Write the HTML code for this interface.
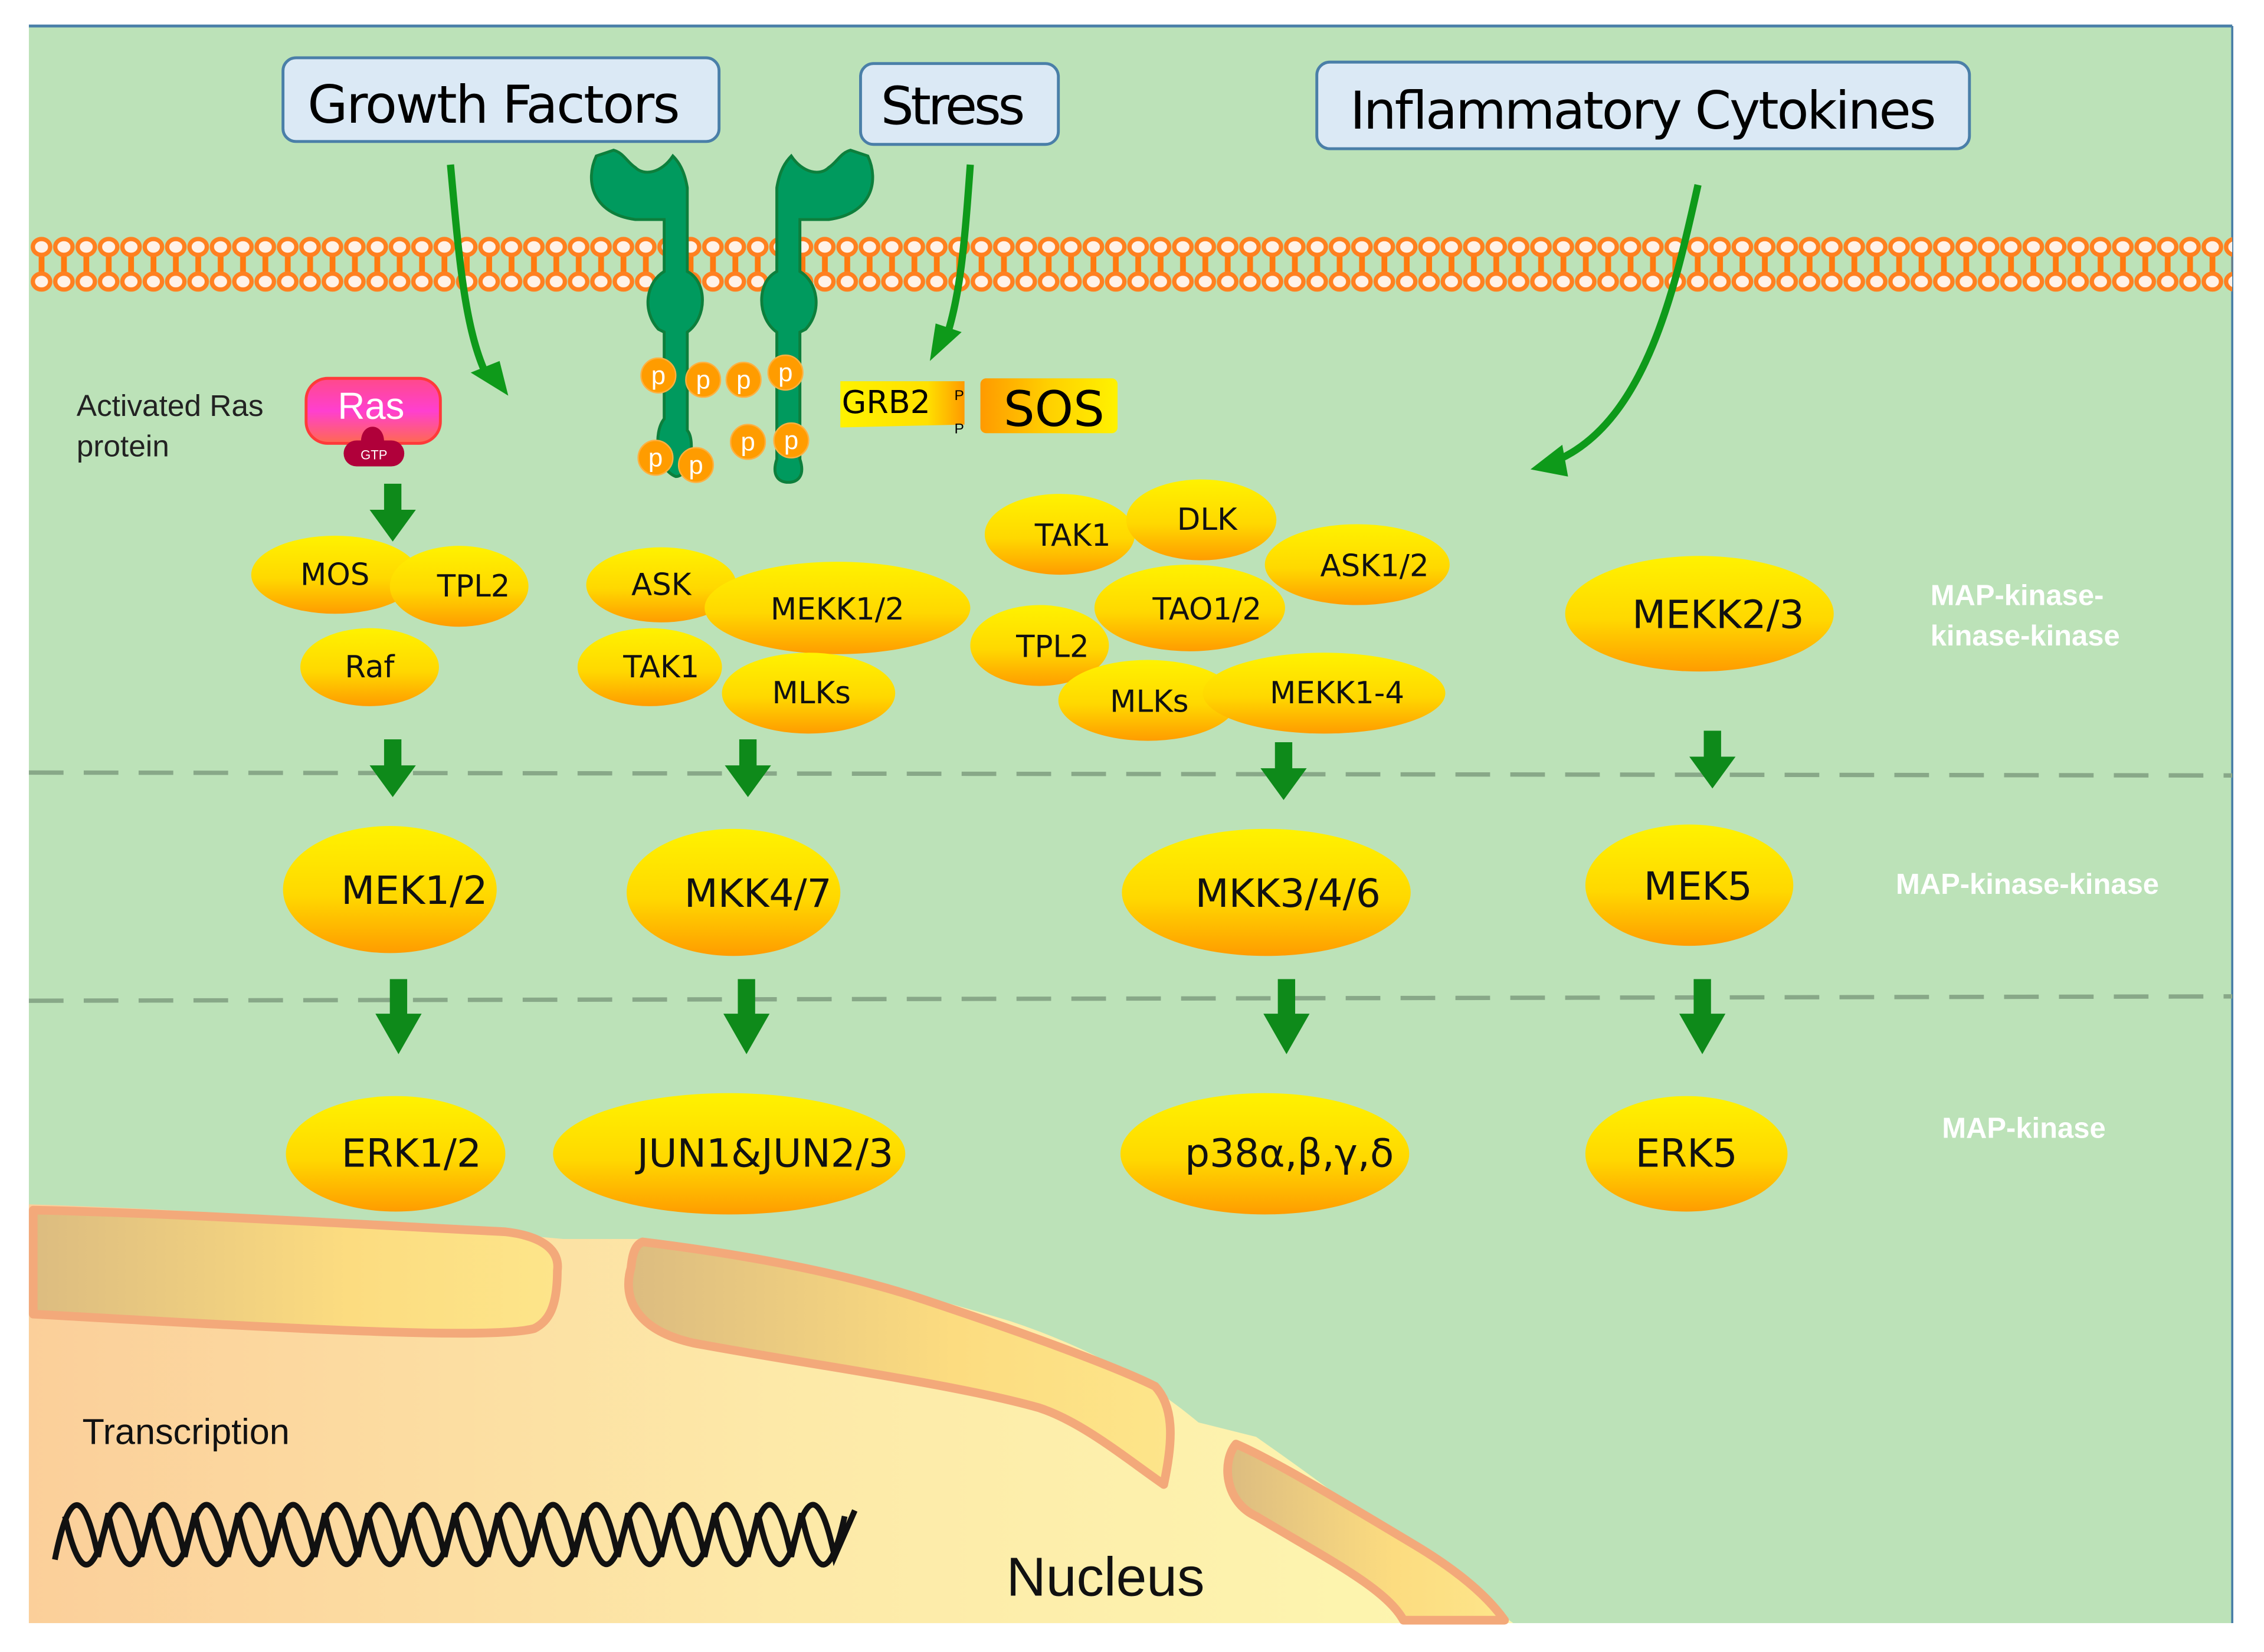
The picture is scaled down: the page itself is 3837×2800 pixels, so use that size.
<!DOCTYPE html>
<html><head><meta charset="utf-8"><style>html,body{margin:0;padding:0;background:#fff}svg{display:block}</style></head><body>
<svg width="3837" height="2800" viewBox="0 0 1568 1144" preserveAspectRatio="none" xmlns="http://www.w3.org/2000/svg" font-family="'Liberation Sans',sans-serif">
<defs>
<linearGradient id="yo" x1="0" y1="0" x2="0" y2="1"><stop offset="0" stop-color="#fff200"/><stop offset="0.55" stop-color="#ffd800"/><stop offset="1" stop-color="#ff9c00"/></linearGradient>
<linearGradient id="nuc" x1="0" y1="0" x2="1" y2="0"><stop offset="0" stop-color="#fbcf9a"/><stop offset="0.5" stop-color="#fde9a8"/><stop offset="1" stop-color="#fdf7b0"/></linearGradient>
<linearGradient id="env" x1="0" y1="0" x2="1" y2="0"><stop offset="0" stop-color="#dcbc80"/><stop offset="0.6" stop-color="#fcdc80"/><stop offset="1" stop-color="#fde58a"/></linearGradient>
<linearGradient id="ras" x1="0" y1="0" x2="0" y2="1"><stop offset="0" stop-color="#ff4a8a"/><stop offset="0.5" stop-color="#ff3fd0"/><stop offset="1" stop-color="#ff6a50"/></linearGradient>
<linearGradient id="sos" x1="0" y1="0" x2="1" y2="0"><stop offset="0" stop-color="#ff9a00"/><stop offset="0.5" stop-color="#ffd000"/><stop offset="1" stop-color="#fff200"/></linearGradient>
<linearGradient id="grb" x1="0" y1="0" x2="1" y2="0"><stop offset="0" stop-color="#fff200"/><stop offset="0.7" stop-color="#ffe000"/><stop offset="1" stop-color="#ff9a00"/></linearGradient>
<pattern id="lip" x="21" y="160" width="15.5" height="46" patternUnits="userSpaceOnUse">
<rect x="5.8" y="10" width="4" height="26" fill="#ff7a10"/>
<ellipse cx="7.75" cy="11" rx="6" ry="5.5" fill="#fff2e8" stroke="#ff8020" stroke-width="3"/>
<ellipse cx="7.75" cy="35" rx="6" ry="5.5" fill="#fff2e8" stroke="#ff8020" stroke-width="3"/>
</pattern>
</defs>
<rect x="0" y="0" width="1568" height="1144" fill="#fff"/>
<rect x="20" y="18" width="1526" height="1106" fill="#bce2b8"/>
<line x1="20" y1="18" x2="1546" y2="18" stroke="#4a7fa8" stroke-width="2"/>
<line x1="1546" y1="18" x2="1546" y2="1124" stroke="#4a7fa8" stroke-width="1.5"/>
<!-- membrane -->
<rect x="21" y="160" width="1525" height="46" fill="url(#lip)"/>
<!-- dashed lines -->
<line x1="20" y1="535" x2="1546" y2="537" stroke="#88a888" stroke-width="3" stroke-dasharray="24,14"/>
<line x1="20" y1="693" x2="1546" y2="690" stroke="#88a888" stroke-width="3" stroke-dasharray="24,14"/>
<!-- boxes -->
<rect x="196" y="40" width="302" height="58" rx="9" fill="#dbe9f5" stroke="#4a7fa8" stroke-width="2"/>
<text x="342" y="85" font-size="36" text-anchor="middle" fill="#000" font-family="'DejaVu Sans','Liberation Sans',sans-serif" textLength="258">Growth Factors</text>
<rect x="596" y="44" width="137" height="56" rx="9" fill="#dbe9f5" stroke="#4a7fa8" stroke-width="2"/>
<text x="660" y="86" font-size="36" text-anchor="middle" font-family="'DejaVu Sans','Liberation Sans',sans-serif" textLength="100">Stress</text>
<rect x="912" y="43" width="452" height="60" rx="9" fill="#dbe9f5" stroke="#4a7fa8" stroke-width="2"/>
<text x="1138" y="89" font-size="36" text-anchor="middle" font-family="'DejaVu Sans','Liberation Sans',sans-serif" textLength="406">Inflammatory Cytokines</text>
<!-- curved arrows -->
<path d="M312,114 C318,180 322,230 338,262" fill="none" stroke="#0e9a1a" stroke-width="5"/>
<path d="M352,274 L326,258 L346,250 z" fill="#0e9a1a"/>
<path d="M672,114 C668,170 665,205 655,235" fill="none" stroke="#0e9a1a" stroke-width="5"/>
<path d="M644,250 L648,224 L666,230 z" fill="#0e9a1a"/>
<path d="M1176,128 C1160,200 1140,290 1080,318" fill="none" stroke="#0e9a1a" stroke-width="5"/>
<path d="M1060,325 L1082,308 L1086,330 z" fill="#0e9a1a"/>
<!-- receptors -->
<g fill="#009a5e" stroke="#0d7f3c" stroke-width="2">
<path d="M413,108 C405,125 410,148 440,152 L460,152 L460,188 C448,195 444,215 456,228 L460,230 L460,290 C452,300 455,325 468,330 C478,330 482,305 476,298 L476,230 C490,220 490,195 476,188 L476,130 C474,118 470,112 466,108 C458,120 446,122 440,116 C434,112 432,106 425,104 z"/>
<path transform="translate(1014,0) scale(-1,1)" d="M413,108 C405,125 410,148 440,152 L460,152 L460,188 C448,195 444,215 456,228 L460,230 L460,318 C456,330 462,334 468,334 C474,334 480,330 476,318 L476,230 C490,220 490,195 476,188 L476,130 C474,118 470,112 466,108 C458,120 446,122 440,116 C434,112 432,106 425,104 z"/>
</g>
<g fill="#ff9c00" stroke="#ffb040" stroke-width="1">
<circle cx="456" cy="260" r="12"/><circle cx="487" cy="263" r="12"/><circle cx="515" cy="263" r="12"/><circle cx="544" cy="258" r="12"/>
<circle cx="454" cy="317" r="12"/><circle cx="482" cy="322" r="12"/><circle cx="518" cy="306" r="12"/><circle cx="548" cy="305" r="12"/>
</g>
<g fill="#fff" font-size="18" text-anchor="middle">
<text x="456" y="266">p</text><text x="487" y="269">p</text><text x="515" y="269">p</text><text x="544" y="264">p</text>
<text x="454" y="323">p</text><text x="482" y="328">p</text><text x="518" y="312">p</text><text x="548" y="311">p</text>
</g>
<!-- GRB2 SOS -->
<path d="M582,264 L668,264 L668,294 L582,296 z" fill="url(#grb)"/>
<text x="583" y="286" font-size="22" font-family="'DejaVu Sans',sans-serif">GRB2</text>
<text x="661" y="277" font-size="10">P</text><text x="661" y="300" font-size="10">P</text>
<rect x="679" y="262" width="95" height="38" rx="4" fill="url(#sos)"/>
<text x="730" y="295" font-size="34" text-anchor="middle" font-family="'DejaVu Sans',sans-serif">SOS</text>
<!-- Ras -->
<text x="53" y="288" font-size="21" fill="#222">Activated Ras</text>
<text x="53" y="316" font-size="21" fill="#222">protein</text>
<rect x="212" y="262" width="93" height="45" rx="15" fill="url(#ras)" stroke="#ff3a3a" stroke-width="2"/>
<text x="257" y="290" font-size="26" fill="#fff" text-anchor="middle">Ras</text>
<path d="M250,306 C250,292 266,292 266,306 z" fill="#b0003a"/>
<rect x="238" y="305" width="42" height="18" rx="9" fill="#b0003a"/>
<text x="259" y="318" font-size="9" fill="#fff" text-anchor="middle">GTP</text>
<!-- straight arrows -->
<g fill="#0e8a1a">
<path d="M266,335 h12 v18 h10 l-16,22 l-16,-22 h10 z"/>
<path d="M266,512 h12 v18 h10 l-16,22 l-16,-22 h10 z"/>
<path d="M512,512 h12 v18 h10 l-16,22 l-16,-22 h10 z"/>
<path d="M883,514 h12 v18 h10 l-16,22 l-16,-22 h10 z"/>
<path d="M1180,506 h12 v18 h10 l-16,22 l-16,-22 h10 z"/>
<path d="M270,678 h12 v24 h10 l-16,28 l-16,-28 h10 z"/>
<path d="M511,678 h12 v24 h10 l-16,28 l-16,-28 h10 z"/>
<path d="M885,678 h12 v24 h10 l-16,28 l-16,-28 h10 z"/>
<path d="M1173,678 h12 v24 h10 l-16,28 l-16,-28 h10 z"/>
</g>
<!-- nucleus -->
<path d="M20,834 C150,838 280,848 390,858 L445,858 C520,868 600,885 700,915 C760,935 800,960 830,985 L870,995 C920,1030 980,1075 1010,1100 C1030,1112 1040,1118 1048,1124 L20,1124 z" fill="url(#nuc)"/>
<g fill="url(#env)" stroke="#f3a97a" stroke-width="6" stroke-linejoin="round">
<path d="M23,838 C120,840 250,848 350,853 C376,856 388,866 386,880 C386,905 380,915 370,920 C340,928 200,920 23,910 z"/>
<path d="M445,860 C510,868 580,880 640,900 C700,920 770,945 800,960 C814,975 812,1000 806,1028 C780,1010 750,985 720,975 C660,958 560,945 480,930 C436,920 432,895 437,878 C438,868 440,862 445,860 z"/>
<path d="M856,1000 C880,1010 930,1040 980,1070 C1010,1088 1030,1105 1042,1122 L972,1122 C960,1100 920,1080 870,1050 C848,1040 846,1012 856,1000 z"/>
</g>
<text x="57" y="1000" font-size="25" fill="#111">Transcription</text>
<text x="697" y="1105" font-size="38" fill="#111">Nucleus</text>
<!-- DNA -->
<g fill="none" stroke="#111" stroke-width="4">
<path d="M38,1080 C48,1030 58,1030 68,1078 C78,1030 88,1030 98,1078 C108,1030 118,1030 128,1078 C138,1030 148,1030 158,1078 C168,1030 178,1030 188,1078 C198,1030 208,1030 218,1078 C228,1030 238,1030 248,1078 C258,1030 268,1030 278,1078 C288,1030 298,1030 308,1078 C318,1030 328,1030 338,1078 C348,1030 358,1030 368,1078 C378,1030 388,1030 398,1078 C408,1030 418,1030 428,1078 C438,1030 448,1030 458,1078 C468,1030 478,1030 488,1078 C498,1030 508,1030 518,1078 C528,1030 538,1030 548,1078 C558,1030 568,1030 578,1078 L592,1046"/>
<path d="M45,1050 C55,1095 65,1095 75,1048 C85,1095 95,1095 105,1048 C115,1095 125,1095 135,1048 C145,1095 155,1095 165,1048 C175,1095 185,1095 195,1048 C205,1095 215,1095 225,1048 C235,1095 245,1095 255,1048 C265,1095 275,1095 285,1048 C295,1095 305,1095 315,1048 C325,1095 335,1095 345,1048 C355,1095 365,1095 375,1048 C385,1095 395,1095 405,1048 C415,1095 425,1095 435,1048 C445,1095 455,1095 465,1048 C475,1095 485,1095 495,1048 C505,1095 515,1095 525,1048 C535,1095 545,1095 555,1048 C565,1095 575,1095 585,1050"/>
</g>
<!-- ellipses -->
<g fill="url(#yo)">
<ellipse cx="232" cy="398" rx="58" ry="27"/><ellipse cx="318" cy="406" rx="48" ry="28"/><ellipse cx="256" cy="462" rx="48" ry="27"/>
<ellipse cx="458" cy="405" rx="52" ry="26"/><ellipse cx="450" cy="462" rx="50" ry="27"/><ellipse cx="580" cy="421" rx="92" ry="32"/><ellipse cx="560" cy="480" rx="60" ry="28"/>
<ellipse cx="734" cy="370" rx="52" ry="28"/><ellipse cx="832" cy="360" rx="52" ry="28"/><ellipse cx="940" cy="391" rx="64" ry="28"/><ellipse cx="720" cy="447" rx="48" ry="28"/><ellipse cx="824" cy="421" rx="66" ry="30"/><ellipse cx="795" cy="485" rx="62" ry="28"/><ellipse cx="917" cy="480" rx="84" ry="28"/>
<ellipse cx="1177" cy="425" rx="93" ry="40"/>
<ellipse cx="270" cy="616" rx="74" ry="44"/><ellipse cx="508" cy="618" rx="74" ry="44"/><ellipse cx="877" cy="618" rx="100" ry="44"/><ellipse cx="1170" cy="613" rx="72" ry="42"/>
<ellipse cx="274" cy="799" rx="76" ry="40"/><ellipse cx="505" cy="799" rx="122" ry="42"/><ellipse cx="876" cy="799" rx="100" ry="42"/><ellipse cx="1168" cy="799" rx="70" ry="40"/>
</g>
<g font-family="'DejaVu Sans','Liberation Sans',sans-serif" fill="#111" text-anchor="middle">
<g font-size="21">
<text x="232" y="405">MOS</text><text x="328" y="413">TPL2</text><text x="256" y="469">Raf</text>
<text x="458" y="412">ASK</text><text x="458" y="469">TAK1</text><text x="580" y="429">MEKK1/2</text><text x="562" y="487">MLKs</text>
<text x="743" y="378">TAK1</text><text x="836" y="367">DLK</text><text x="952" y="399">ASK1/2</text><text x="729" y="455">TPL2</text><text x="836" y="429">TAO1/2</text><text x="796" y="493">MLKs</text><text x="926" y="487">MEKK1-4</text>
</g>
<g font-size="27">
<text x="1190" y="435">MEKK2/3</text>
<text x="287" y="626">MEK1/2</text><text x="525" y="628">MKK4/7</text><text x="892" y="628">MKK3/4/6</text><text x="1176" y="623">MEK5</text>
<text x="285" y="808">ERK1/2</text><text x="530" y="808">JUN1&amp;JUN2/3</text><text x="893" y="808">p38α,β,γ,δ</text><text x="1168" y="808">ERK5</text>
</g>
</g>
<g fill="#fff" font-weight="bold" font-size="20">
<text x="1337" y="419">MAP-kinase-</text><text x="1337" y="447">kinase-kinase</text>
<text x="1313" y="619">MAP-kinase-kinase</text>
<text x="1345" y="788">MAP-kinase</text>
</g>
</svg>
</body></html>
